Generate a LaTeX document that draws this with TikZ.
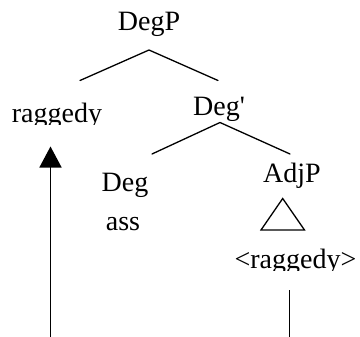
\documentclass[tikz,border=0pt]{standalone}
\usepackage{fontspec}
\newfontfamily\tnr{Liberation Serif}
\usetikzlibrary{arrows.meta}
\begin{document}
\begin{tikzpicture}[x=1bp,y=-1bp,
  lbl/.style={font=\tnr\fontsize{28bp}{30bp}\selectfont, inner sep=0pt, anchor=base, text=black},
  branch/.style={line width=1.3bp, black, line cap=round},
  move/.style={line width=1.6bp, black}]
\useasboundingbox (0,0) rectangle (360,337);
% labels
\node[lbl] (degp) at (149,30) {DegP};
\begin{scope}
  \clip (0,90) rectangle (130,124.5);
  \node[lbl] (rag) at (57,122) {raggedy};
\end{scope}
\begin{scope}
  \clip (180,90) rectangle (260,120.5);
  \node[lbl] (degbar) at (219,115) {Deg\symbol{39}};
\end{scope}
\node[lbl] (deg) at (125,191.5) {Deg};
\node[lbl] (ass) at (123,230.5) {ass};
\begin{scope}
  \clip (240,150) rectangle (340,187.5);
  \node[lbl] (adjp) at (292,182.5) {AdjP};
\end{scope}
\begin{scope}
  \clip (220,240) rectangle (360,270.5);
  \node[lbl] (trace) at (295.5,268.5) {<raggedy>};
\end{scope}
% branch coordinates
\coordinate (degp-top) at (149,50);
\coordinate (degp-l) at (80,80.5);
\coordinate (degp-r) at (218,80.5);
\coordinate (degbar-top) at (220,122.5);
\coordinate (degbar-l) at (152,154);
\coordinate (degbar-r) at (290,154);
\coordinate (tri-top) at (282.7,198.5);
\coordinate (tri-l) at (261,230);
\coordinate (tri-r) at (304.5,230);
\coordinate (mv-src-top) at (289.3,290);
\coordinate (mv-src-bot) at (289.3,337);
\coordinate (mv-arr-bot) at (50.5,337);
\coordinate (mv-arr-tip) at (50.5,146.5);
% branches
\draw[branch] (degp-l) -- (degp-top) -- (degp-r);
\draw[branch] (degbar-l) -- (degbar-top) -- (degbar-r);
\draw[branch, line join=miter] (tri-top) -- (tri-l) -- (tri-r) -- cycle;
% movement
\draw[move] (mv-src-top) -- (mv-src-bot);
\draw[move, -{Triangle[length=21bp,width=22bp]}] (mv-arr-bot) -- (mv-arr-tip);
\end{tikzpicture}
\end{document}
